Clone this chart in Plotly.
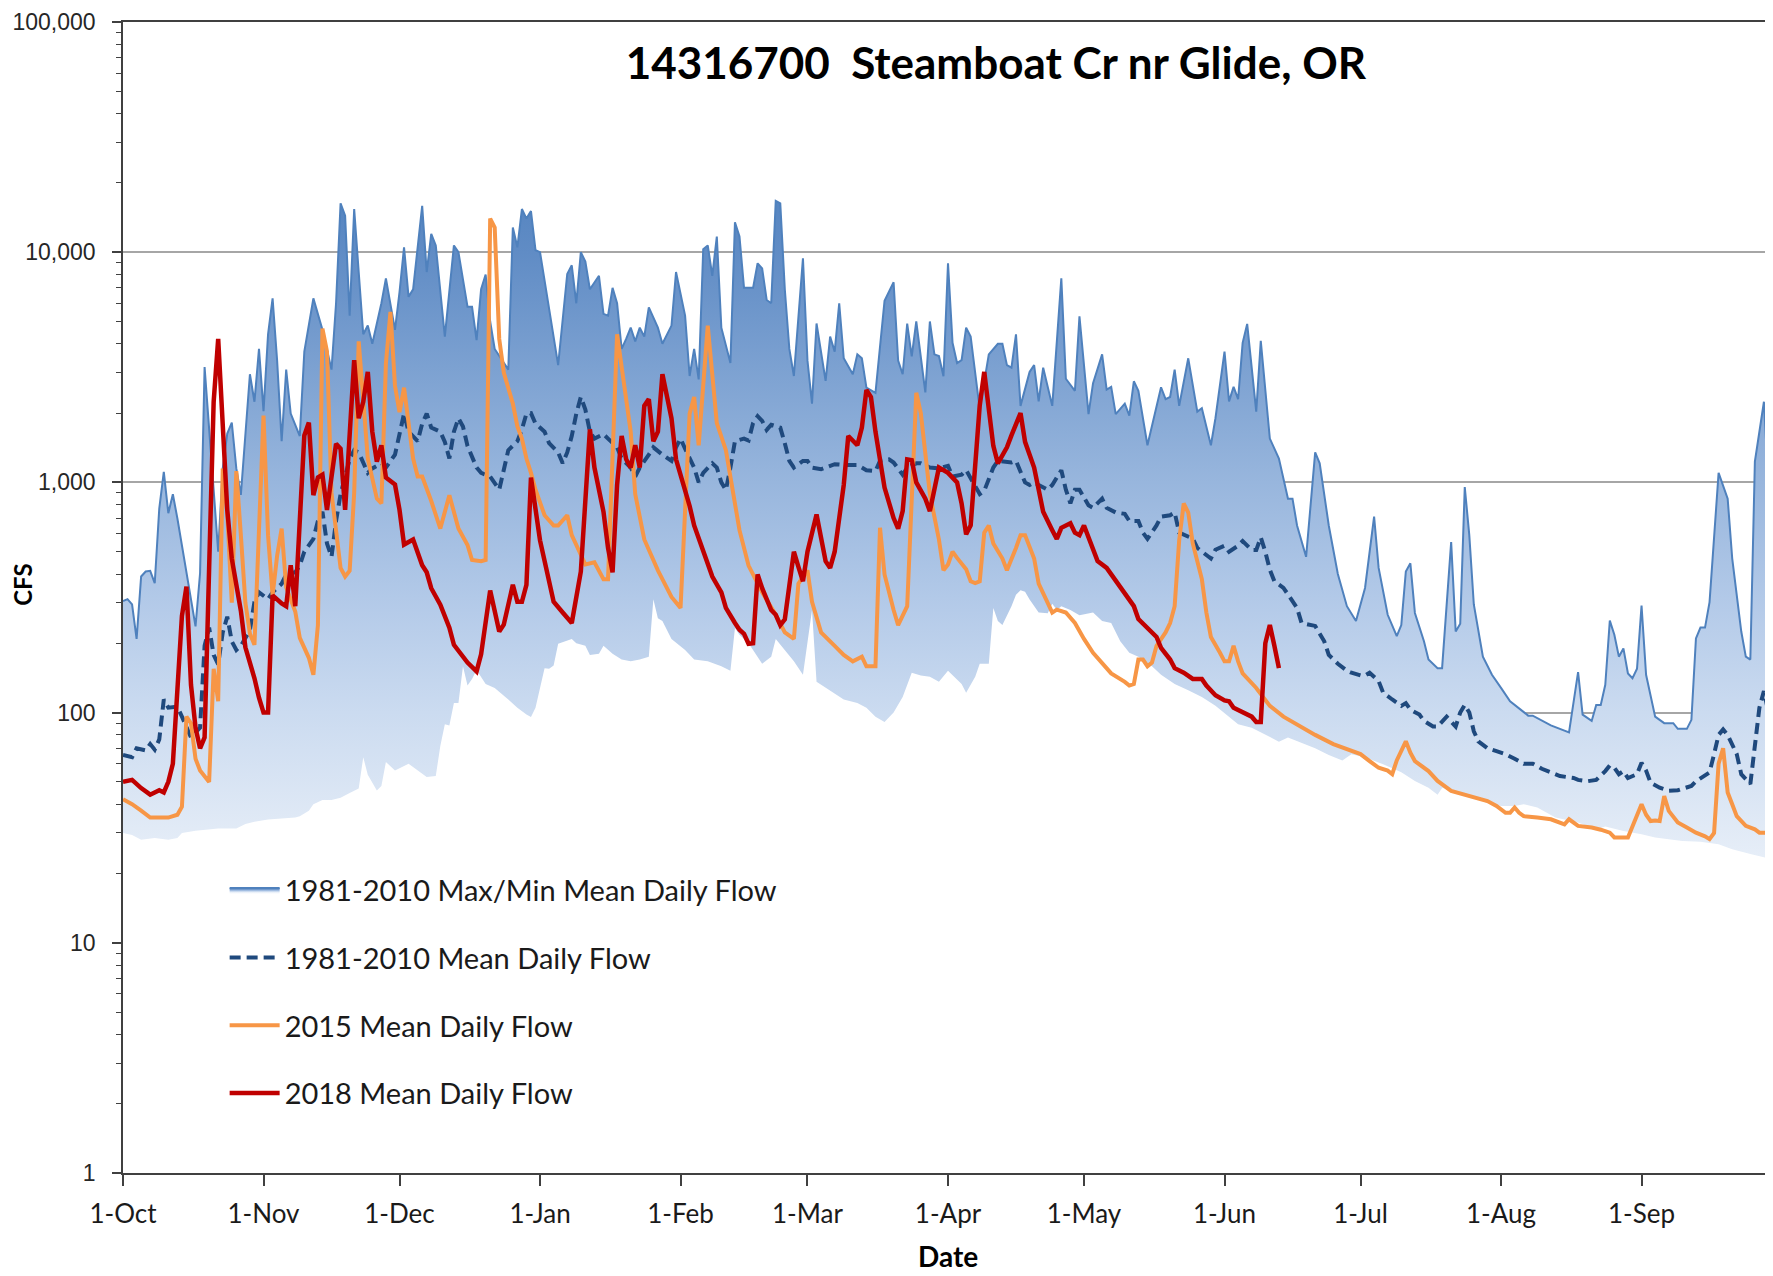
import numpy as np
import plotly.graph_objects as go

START = np.datetime64('2017-10-01')
END = '2018-09-30'

# ---------------- data (day offset from 1-Oct, CFS) ----------------
max_days = [0,1,2,3,4,5,6,7,8,9,10,11,12,14,16,17,18,21,22,23,24,25,26,28,29,30,31,32,33,34,35,36,37,39,40,42,44,46,47,48,49,50,51,52,53,54,55,57,58,60,61,62,63,64,65,66,67,68,69,71,73,74,76,77,78,79,80,81,82,83,85,86,87,88,89,90,91,92,94,96,98,99,100,101,102,103,105,106,107,108,109,110,111,112,113,114,115,116,118,119,121,122,124,125,126,127,128,129,130,131,132,134,135,136,137,139,140,141,142,143,144,145,146,147,148,150,151,152,153,155,156,157,158,159,161,162,163,164,166,168,170,171,172,173,174,175,177,178,179,180,181,182,183,184,185,186,187,189,191,193,194,195,196,197,198,200,201,202,203,205,207,208,210,211,213,214,216,217,218,219,221,222,223,224,226,229,230,231,232,233,235,237,238,240,241,243,244,245,246,247,248,250,251,253,255,257,258,259,261,263,264,266,268,270,272,273,274,276,277,279,281,282,283,284,285,287,288,290,291,293,294,295,296,297,298,300,302,304,306,310,311,315,317,319,321,322,324,325,326,327,328,329,330,331,332,333,334,335,336,338,340,342,343,345,346,347,348,349,350,351,352,354,355,357,358,359,360,362,363,364]
max_cfs = [305,311,295,209,390,410,413,365,770,1110,735,888,697,400,237,403,3170,500,1150,1630,1820,1150,883,2950,2240,3800,2040,4400,6300,3380,1510,3090,1990,1590,3700,6300,4600,3090,6000,16300,14400,5300,15400,8200,4400,4800,4000,6000,7700,4600,6700,10500,6400,6900,10200,15900,8200,12000,10700,4300,10700,10000,5800,5800,4150,6900,8000,5000,3800,3530,3090,12800,10500,15400,14000,15100,10200,10000,5800,3230,8040,8770,6000,10000,9100,6900,7900,5400,5300,7000,6000,3800,4200,4700,4100,4700,4300,5760,4700,4000,4800,8200,5300,2900,3800,2800,10300,10700,7900,11700,4700,3300,13500,11700,7000,7000,8950,8500,6200,6000,16700,16300,6900,3800,2900,9400,3380,2200,4900,2760,4300,3700,6000,3460,2950,3600,3460,2580,2450,6150,7400,3380,2950,4900,3530,5000,2460,5000,3600,3540,2890,8950,4040,3300,3400,4700,4300,2080,3600,4000,4000,3230,3150,4400,2150,3020,3230,2250,3150,2150,7700,2820,2500,5270,1980,2700,3600,2530,2600,1980,2200,1950,2750,2500,1450,2590,2300,2350,3090,2150,3460,2030,2100,1450,1900,3700,2250,2600,2300,4040,4880,2030,4120,1550,1270,850,850,650,475,1350,1210,650,400,290,250,292,348,710,425,266,215,240,410,445,271,204,170,156,156,550,225,243,955,590,295,175,146,128,112,97,97,88,85,82,150,98,92,108,108,132,251,218,175,190,148,141,155,292,146,96,90,90,85,85,93,210,234,234,302,550,1100,850,468,225,175,170,1230,2240,980,500]

min_days = [0,2,4,7,10,12,13,16,21,25,27,29,32,38,39,41,42,44,46,48,50,52,53,54,56,57,58,60,63,65,67,69,70,71,72,73,74,75,76,77,78,80,82,85,87,89,90,91,93,94,95,96,99,100,102,103,105,106,108,110,112,114,116,117,118,119,121,124,126,129,132,134,135,136,138,141,143,144,146,148,150,152,153,156,159,162,164,166,168,170,172,174,176,178,180,182,183,185,186,188,189,191,192,193,194,196,197,198,199,200,202,204,205,206,207,209,211,213,214,216,218,220,222,224,227,229,232,235,238,241,244,246,249,252,255,257,260,263,266,269,271,274,278,282,285,288,290,291,293,296,300,304,307,309,312,316,321,325,327,331,335,338,344,348,352,355,359,364]
min_cfs = [30,29.4,28,28.5,28,28.5,30,30.7,31.4,31.4,32.8,33.6,34.3,35,35.5,37.5,40,41.7,41.7,42.7,44.7,46.8,64,53.7,45.9,48,61,56,60,56,52.5,53,71.6,89,88,110,110,159,131,140,153,133,128,114,105,98,95.6,105,156,155,160,199,209,200,195,178,180,195,180,170,167,170,175,311,257,250,209,187,170,167,159,152,233,218,200,163,175,209,187,167,146,279,136,125,114,110,105,96,91,100,117,149,145,143,136,152,145,133,122,143,163,163,285,250,240,290,325,340,335,310,272,270,297,280,290,279,265,270,272,250,245,204,182,175,159,146,133,125,117,107,96,89,86,80,74.8,78,74,70,65.5,62,66,64,59.6,55,50.5,47.2,44,47,46.5,44,41.3,39.3,39.3,40,38.7,35,33.3,31.1,32,30.6,29.6,28.7,27.7,27.5,26.8,25.5,24.3,23]

mean_days = [0,2,3,5,6,7,8,9,10,12,13,14,15,17,18,19,20,21,22,23,24,25,26,28,29,30,32,33,35,36,38,39,40,42,43,44,45,46,47,48,49,50,51,52,54,55,57,58,60,61,62,63,65,66,67,68,70,71,72,73,74,75,76,78,79,81,82,83,85,87,88,89,90,91,93,94,96,97,98,99,100,101,102,103,104,106,107,109,110,112,113,114,116,117,119,121,122,123,124,126,127,128,130,131,132,133,134,135,137,138,139,140,141,142,143,145,146,147,148,150,151,152,154,156,157,159,161,162,164,166,167,169,170,172,173,175,176,178,180,182,183,185,186,187,189,190,191,192,193,195,196,197,199,200,201,202,204,205,207,208,209,210,211,213,214,216,217,219,221,222,224,225,226,228,229,231,232,233,235,236,237,239,240,241,243,244,246,247,249,250,251,252,253,254,256,257,259,260,262,263,265,266,268,270,271,273,274,275,277,278,280,282,283,284,286,287,289,290,292,293,294,295,296,297,298,299,301,303,305,307,309,311,313,315,317,320,321,323,325,327,328,329,330,331,332,334,335,336,337,339,341,343,346,347,350,351,352,353,354,356,357,359,360,361,362,363,364]
mean_cfs = [65.5,64,70,68.5,73,69,76.5,114,105,106,96,86,78,86,195,234,178,162,223,261,204,187,195,228,303,333,311,333,363,398,407,436,500,568,680,745,543,475,680,890,1060,1260,1380,1350,1100,1150,1210,1160,1320,1590,1990,1660,1510,1800,1990,1730,1660,1500,1270,1660,1900,1750,1440,1160,1100,1060,1000,930,1380,1510,1700,1990,2000,1800,1660,1480,1350,1210,1350,1590,1990,2350,2070,1660,1550,1620,1550,1420,1270,1160,1060,1160,1320,1420,1320,1240,1420,1550,1400,1160,1000,1100,1210,1160,1000,927,1160,1510,1550,1520,1810,1940,1850,1690,1780,1730,1480,1240,1160,1240,1240,1160,1140,1180,1200,1190,1190,1190,1130,1120,1240,1260,1220,1080,1160,1210,1210,1160,1150,1180,1060,1080,1130,1050,890,920,1040,1160,1240,1220,1220,1240,1000,975,1000,975,930,975,1130,930,810,930,930,795,775,850,775,740,730,680,680,605,569,650,710,720,740,605,580,570,519,487,467,510,531,500,531,556,508,508,577,500,417,372,348,326,285,245,240,238,204,178,163,152,149,145,145,149,137,122,114,107,110,103,98,92,87,87,96,92,87,100,108,100,83,75,70,68,66,63,60,60,57,55,53,52,51,50.3,51,55.7,59,57.6,54,55.7,52,54,60.5,56,49.6,47.2,45.8,46,48,50.3,55,66,80,84.5,80,66,54,49,75,105,124,100,75]

y2015_days = [0,2,4,6,10,12,13,14,15,16,17,19,20,21,22,23,24,25,26,27,28,29,31,32,33,34,35,36,38,39,41,42,43,44,45,46,48,49,50,51,52,53,54,56,57,58,59,60,61,62,64,65,66,68,70,72,74,76,77,79,80,81,82,83,84,86,87,88,89,90,91,93,95,96,98,99,101,102,104,106,107,109,112,113,115,118,121,123,125,126,127,129,131,133,136,138,141,144,146,148,149,151,152,154,157,159,161,163,164,166,167,168,170,171,173,175,176,178,180,181,182,183,184,186,187,188,189,190,191,192,194,195,197,198,199,201,202,204,205,206,208,210,212,214,216,218,221,222,223,224,225,226,227,228,230,231,232,233,234,235,236,238,239,240,242,243,244,245,246,247,250,253,256,260,263,267,271,273,275,277,279,280,281,283,284,285,288,290,293,296,299,301,303,305,306,307,308,309,312,315,318,319,321,324,326,328,329,332,335,336,337,338,339,340,341,343,345,347,349,350,351,352,353,354,355,356,358,360,361,364]
y2015_cfs = [42,40,37.5,35,35,36,39,96,90,63,56,50,155,112,1150,730,300,1120,590,300,220,197,1950,590,323,480,630,350,275,211,173,146,240,4660,3700,900,425,390,413,900,4100,2250,1270,850,810,3290,5500,2630,2020,2580,1270,1060,1060,830,630,880,630,535,460,455,460,14000,12800,4200,3000,2200,1750,1550,1270,1100,930,720,650,650,720,590,480,440,450,380,380,4400,1660,890,565,415,318,285,1990,2350,1450,4800,1810,1380,620,435,333,266,223,209,363,415,303,223,195,178,167,175,159,159,635,398,279,240,290,2450,2000,890,565,415,440,500,470,420,372,365,372,605,650,543,467,415,519,590,590,467,363,303,272,280,272,245,209,182,163,148,136,131,133,170,170,159,165,195,223,245,290,560,810,740,543,380,272,213,182,167,167,195,167,148,128,107,96,86,80,73,68,66,61.6,57.6,56,54,62,75,67,61.6,55.7,50.5,45.7,44,42.7,41.3,39.3,36.7,36.7,38.7,36.7,35.5,35,34.4,32.7,34.4,32.2,31.7,31,30.1,28.7,28.7,40,36,33.8,34,33.8,43.4,37.4,33.3,31.7,30.1,29,28.2,30,60,70,45,40,35.5,32.2,31.1,30.1,30.1]

y2018_days = [0,2,4,6,8,9,10,11,13,14,15,16,17,18,19,20,21,22,23,24,26,27,29,30,31,32,33,35,36,37,38,40,41,42,43,44,45,47,48,49,51,52,53,54,55,56,57,58,60,61,62,64,66,67,68,70,72,73,75,76,78,79,81,82,83,84,86,87,88,89,90,92,94,95,97,98,99,101,102,103,104,106,107,108,109,110,111,112,113,114,115,116,117,118,119,121,122,124,125,126,128,130,132,133,135,136,137,138,139,140,141,143,144,145,146,148,149,150,151,153,155,156,157,159,160,161,162,163,164,165,166,168,169,170,171,172,173,174,175,177,178,179,180,182,183,184,185,186,187,188,189,190,191,192,193,195,196,198,199,201,202,203,205,206,207,209,210,211,212,214,215,217,218,220,221,223,224,226,228,229,231,232,234,236,238,239,241,243,244,245,247,249,250,251,252,253,254,255]
y2018_cfs = [50,51,47,44,46,45,50,60,263,353,132,86,70,78,425,2240,4200,1700,760,467,277,192,141,116,100,100,323,298,290,437,290,1600,1820,880,1050,1080,760,1470,1400,760,3400,1900,2240,3020,1660,1230,1450,1050,980,760,537,565,437,407,347,294,234,197,173,165,151,179,339,277,225,241,359,303,303,359,1050,560,359,303,272,257,245,410,880,1700,1160,745,520,407,975,1590,1260,1160,1450,1160,2150,2300,1510,1660,2950,1900,1260,930,790,650,500,390,333,285,245,229,220,199,200,398,347,279,266,240,254,500,430,372,500,725,455,425,500,975,1590,1520,1450,1730,2520,2350,1660,950,810,700,630,750,1260,1250,1000,850,750,950,1160,1100,1040,1000,810,595,650,1270,2160,3020,2070,1440,1210,1420,1600,2000,1500,1160,930,745,620,568,635,665,605,590,650,520,455,425,398,355,333,290,255,233,213,191,170,156,149,140,140,131,119,113,112,105,100,96,91,91,200,240,195,156]

# axis ticks
month_ticks = ['2017-10-01','2017-11-01','2017-12-01','2018-01-01','2018-02-01','2018-03-01',
               '2018-04-01','2018-05-01','2018-06-01','2018-07-01','2018-08-01','2018-09-01']
month_labels = ['1-Oct','1-Nov','1-Dec','1-Jan','1-Feb','1-Mar','1-Apr','1-May','1-Jun','1-Jul','1-Aug','1-Sep']
y_ticks = [1, 10, 100, 1000, 10000, 100000]
y_labels = ['1', '10', '100', '1,000', '10,000', '100,000']

TITLE = '14316700  Steamboat Cr nr Glide, OR'


def to_dates(days):
    return [str(START + np.timedelta64(int(d), 'D')) for d in days]


minor_vals = [m * 10 ** e for e in range(0, 5) for m in range(2, 10)]

GRAD = [[0.0, '#ffffff'], [0.26, '#e9f0f9'], [0.30, '#e1eaf6'], [0.40, '#cbdbf0'],
        [0.50, '#b2c9e8'], [0.60, '#98b6dd'], [0.70, '#7ca1d1'], [0.80, '#608cc5'],
        [0.86, '#5383bf'], [1.0, '#4a7cba']]

fig = go.Figure()
fig.add_trace(go.Scatter(
    x=to_dates(max_days), y=max_cfs, mode='lines', name='1981-2010 Max/Min Mean Daily Flow',
    line=dict(color='#4f81bd', width=2), fill='tozeroy',
    fillgradient=dict(type='vertical', colorscale=GRAD, start=1, stop=100000),
    legendgroup='a', hoverinfo='skip'))
fig.add_trace(go.Scatter(
    x=to_dates(min_days), y=min_cfs, mode='lines', line=dict(color='white', width=0),
    fill='tozeroy', fillcolor='white', showlegend=False, hoverinfo='skip'))
fig.add_trace(go.Scatter(
    x=to_dates(mean_days), y=mean_cfs, mode='lines', name='1981-2010 Mean Daily Flow',
    line=dict(color='#1f497d', width=4, dash='11px,6px'), legendgroup='b', hoverinfo='skip'))
fig.add_trace(go.Scatter(
    x=to_dates(y2015_days), y=y2015_cfs, mode='lines', name='2015 Mean Daily Flow',
    line=dict(color='#f79646', width=4), legendgroup='c', hoverinfo='skip'))
fig.add_trace(go.Scatter(
    x=to_dates(y2018_days), y=y2018_cfs, mode='lines', name='2018 Mean Daily Flow',
    line=dict(color='#c00000', width=4.5), legendgroup='d', hoverinfo='skip'))

# page body has an 8px margin: the figure is sized to fit inside the window
fig.update_layout(
    width=1765, height=1268, autosize=False,
    margin=dict(l=115, r=0, t=14, b=103),
    paper_bgcolor='white', plot_bgcolor='white',
    title=dict(text=TITLE, x=0.529, xref='paper', xanchor='center', y=0.9558, yanchor='middle',
               font=dict(family='Lato', size=44, color='black', weight='bold')),
    showlegend=True,
    legend=dict(x=0.0616, y=0.268, xanchor='left', yanchor='top', bgcolor='rgba(0,0,0,0)',
                font=dict(family='Lato', size=29, color='#1a1a1a'),
                tracegroupgap=27, itemwidth=50, traceorder='grouped'),
    xaxis=dict(type='date', range=[str(START), END], tickmode='array', tickvals=month_ticks,
               ticktext=month_labels, ticks='outside', ticklen=11, tickwidth=1.5, tickcolor='#404040',
               showline=True, linecolor='#404040', linewidth=1.5, mirror=True, showgrid=False,
               zeroline=False, ticklabelstandoff=6, automargin=False,
               tickfont=dict(family='Lato', size=26, color='#1a1a1a')),
    yaxis=dict(type='log', range=[0, 5], tickmode='array', tickvals=y_ticks, ticktext=y_labels,
               ticks='outside', ticklen=9, tickwidth=1.5, tickcolor='#404040',
               showline=True, linecolor='#404040', linewidth=1.5,
               showgrid=True, gridcolor='#a6a6a6', gridwidth=1.5, zeroline=False,
               ticklabelstandoff=12, automargin=False, ticklabeloverflow='allow',
               minor=dict(tickvals=minor_vals, ticks='outside', ticklen=5, tickwidth=1.2,
                          tickcolor='#404040', showgrid=False),
               tickfont=dict(family='Liberation Sans', size=23, color='#262626')),
    annotations=[
        dict(text='<b>CFS</b>', xref='paper', yref='paper', x=-0.0606, y=0.511, textangle=-90,
             showarrow=False, xanchor='center', yanchor='middle',
             font=dict(family='Lato', size=24, color='black')),
        dict(text='<b>Date</b>', xref='paper', yref='paper', x=0.5, y=-0.0722,
             showarrow=False, xanchor='center', yanchor='middle',
             font=dict(family='Lato', size=28, color='black')),
    ],
)

fig.write_html('out.html')
